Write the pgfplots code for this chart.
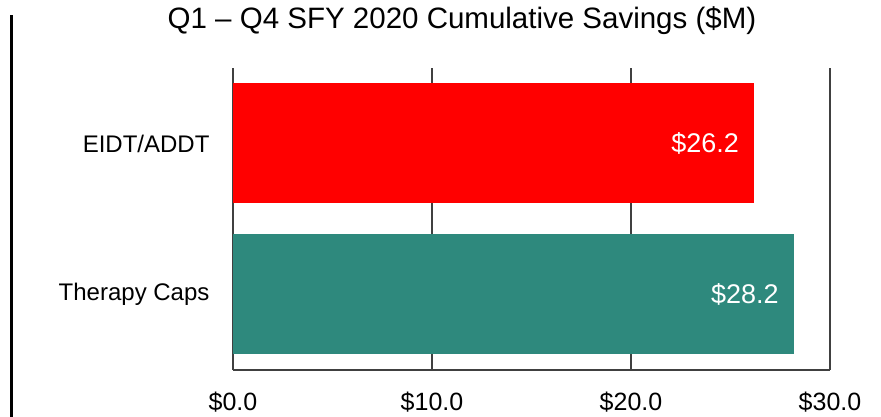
\documentclass[border=0pt]{standalone}
\usepackage{pgfplots}
\pgfplotsset{compat=1.18}
\usepackage{fontspec}
\setmainfont{Liberation Sans}
\definecolor{barred}{HTML}{FF0000}
\definecolor{barteal}{HTML}{2E897D}
\definecolor{gridc}{HTML}{404040}
\begin{document}
\begin{tikzpicture}[x=1pt,y=1pt]
\useasboundingbox (-233,-47) rectangle (648,370);
\begin{axis}[
  at={(0,0)}, anchor=south west,
  scale only axis, width=597pt, height=302pt,
  xbar, bar width=120pt, bar shift=0pt,
  xmin=0, xmax=30, ymin=-0.5, ymax=1.5,
  ytick={0,1}, yticklabels={Therapy Caps, EIDT/ADDT},
  xtick={0,10,20,30},
  xticklabels={\$0.0,\$10.0,\$20.0,\$30.0},
  axis x line*=bottom, axis y line*=left,
  axis line style={gridc, line width=1.5pt},
  major tick length=0pt,
  xmajorgrids, grid style={gridc, line width=1.5pt},
  tick label style={font=\fontsize{24}{28}\selectfont},
  xticklabel style={yshift=-18pt, font=\fontsize{25}{28}\selectfont},
  yticklabel style={xshift=-20pt},
  /pgf/number format/assume math mode=true,
  nodes near coords={\$\pgfmathprintnumber[fixed,precision=1,fixed zerofill,assume math mode=true]{\pgfplotspointmeta}},
  nodes near coords style={anchor=east, white, xshift=-12pt, font=\fontsize{27}{30}\selectfont},
  point meta=explicit,
  clip=false,
]
\addplot[fill=barteal, draw=none] coordinates {(28.2,0) [28.2]};
\addplot[fill=barred, draw=none] coordinates {(26.2,1) [26.2]};
\end{axis}
\draw[line width=3pt, black] (-221,-47) -- (-221,355);
\node[font=\fontsize{29.5}{34}\selectfont] at (229,349) {Q1 – Q4 SFY 2020 Cumulative Savings (\$M)};
\end{tikzpicture}
\end{document}
